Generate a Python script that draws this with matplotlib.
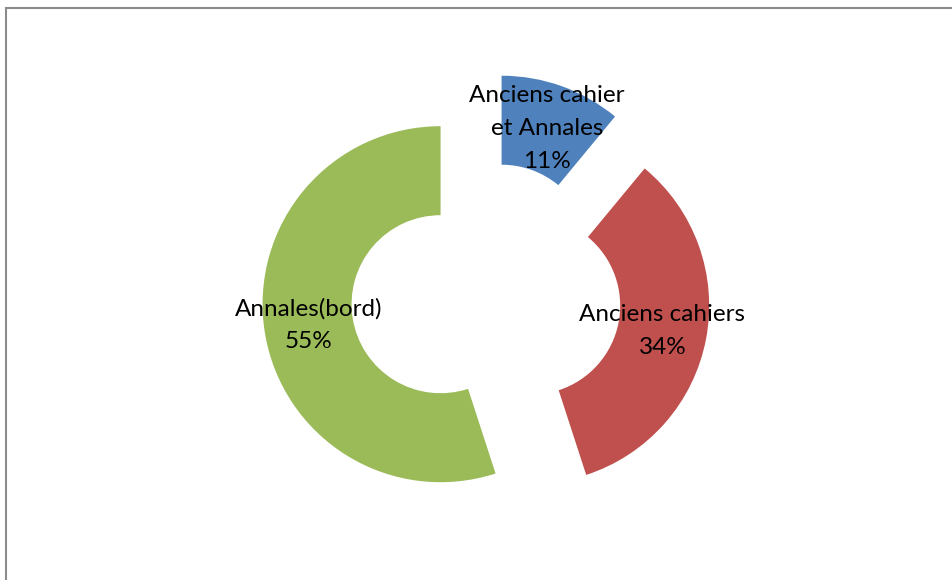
import matplotlib.pyplot as plt
from matplotlib.patches import Rectangle

# Données
categories = ["Anciens cahier\net Annales", "Anciens cahiers", "Annales(bord)"]
valeurs = [11, 34, 55]
couleurs = ["#4F81BD", "#C0504D", "#9BBB59"]

plt.rcParams["font.family"] = ["Lato", "DejaVu Sans"]

fig = plt.figure(figsize=(9.53, 5.80), dpi=100)
ax = fig.add_axes([0, 0, 1, 1])
ax.set_xlim(0, 953)
ax.set_ylim(0, 580)
ax.set_aspect("equal")

rayon = 178
wedges, textes, autotextes = ax.pie(
    valeurs,
    colors=couleurs,
    startangle=90,
    counterclock=False,
    center=(486, 283),
    radius=rayon,
    explode=[46] * len(valeurs),
    wedgeprops=dict(width=rayon * 0.5, linewidth=0),
    autopct="%1.0f%%",
    pctdistance=0.75,
    textprops=dict(fontsize=17.5, color="black"),
    frame=True,
)
ax.axis("off")

# Étiquette + pourcentage au centre de chaque secteur
for t, nom, v in zip(autotextes, categories, valeurs):
    t.set_text(f"{nom}\n{v}%")
    t.set_linespacing(1.7)

# Cadre du graphique
fig.add_artist(Rectangle((6 / 953, -0.5), 2, 1.5 - 8 / 580,
                         transform=fig.transFigure, fill=False,
                         edgecolor="#8C8C8C", linewidth=1.5))

fig.savefig("out.png", dpi=100)
